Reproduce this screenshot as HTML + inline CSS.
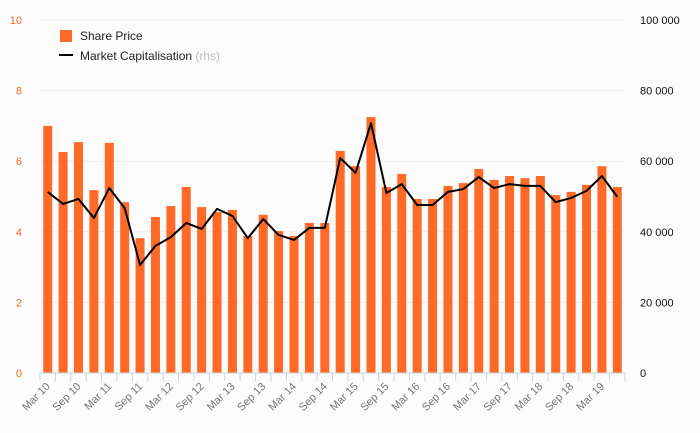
<!DOCTYPE html>
<html><head><meta charset="utf-8"><style>
body{margin:0;background:#fcfcfc;}
svg{display:block;font-family:"Liberation Sans",sans-serif;}
</style></head><body>
<svg id="chart" width="700" height="433"></svg>
<script>
const categories=["Mar 10","Jun 10","Sep 10","Dec 10","Mar 11","Jun 11","Sep 11","Dec 11","Mar 12","Jun 12","Sep 12","Dec 12","Mar 13","Jun 13","Sep 13","Dec 13","Mar 14","Jun 14","Sep 14","Dec 14","Mar 15","Jun 15","Sep 15","Dec 15","Mar 16","Jun 16","Sep 16","Dec 16","Mar 17","Jun 17","Sep 17","Dec 17","Mar 18","Jun 18","Sep 18","Dec 18","Mar 19","Jun 19"];
const sharePrice=[7.0,6.26,6.54,5.18,6.52,4.84,3.82,4.42,4.73,5.27,4.70,4.56,4.62,3.88,4.48,4.02,3.88,4.25,4.25,6.29,5.86,7.25,5.27,5.64,4.93,4.93,5.30,5.38,5.78,5.47,5.58,5.52,5.58,5.04,5.13,5.33,5.86,5.27];
const marketCap=[51300,47900,49300,43900,52400,46700,30600,36000,38500,42500,40800,46500,44500,38200,43600,39100,37700,41100,41100,60900,56700,70800,51000,53500,47600,47600,51300,52100,55500,52400,53500,53000,53000,48400,49600,51600,55800,49900];
const leftTicks=[0,2,4,6,8,10];
const rightTicks=[0,20000,40000,60000,80000,100000];
const rightTickLabels=["0","20 000","40 000","60 000","80 000","100 000"];

const NS="http://www.w3.org/2000/svg";
const svg=document.getElementById('chart');
const L=40,R=625,T=20,B=373;
const band=(R-L)/categories.length;
const xc=i=>L+band*(i+0.5);
const yL=v=>B-(v/10)*(B-T);
const yR=v=>B-(v/100000)*(B-T);
function mk(tag,attrs){const e=document.createElementNS(NS,tag);for(const k in attrs)e.setAttribute(k,attrs[k]);svg.appendChild(e);return e;}

leftTicks.forEach((t,i)=>{
  if(t>0){const g=mk('line',{x1:L,x2:R,y1:yL(t),y2:yL(t),stroke:'#ececec','stroke-width':1});
  
  }
  const a=mk('text',{x:22,y:yL(t)+4,'text-anchor':'end','font-size':11,fill:'#f26b2a'});a.textContent=t;
  
  
});
rightTicks.forEach((t,i)=>{
  const a=mk('text',{x:640,y:yR(t)+4,'font-size':11,fill:'#111'});a.textContent=rightTickLabels[i];
  
  
});
sharePrice.forEach((v,i)=>{
  const r=mk('rect',{x:xc(i)-4.5,y:yL(v),width:9,height:B-yL(v),fill:'#ff6a28'});
  
  
});
const ax=mk('line',{x1:L,x2:R,y1:B,y2:B,stroke:'#c8d3e2','stroke-width':1});


for(let i=0;i<=categories.length;i++){
  const tk=mk('line',{x1:L+band*i,x2:L+band*i,y1:B,y2:B+8,stroke:'#c8d3e2','stroke-width':1});
  
  
}
categories.forEach((c,i)=>{
  if(i%2)return;
  const x=xc(i)+3,y=B+14;
  const t=mk('text',{x:x,y:y,'text-anchor':'end','font-size':11,fill:'#777',transform:`rotate(-45 ${x} ${y})`});t.textContent=c;
  
  
});
const line=mk('polyline',{points:marketCap.map((v,i)=>xc(i)+','+yR(v)).join(' '),fill:'none',stroke:'#000','stroke-width':2,'stroke-linejoin':'round'});



const lr=mk('rect',{x:60,y:30,width:12,height:12,fill:'#ff6a28'});


const lt=mk('text',{x:80,y:40,'font-size':12,fill:'#222'});lt.textContent='Share Price';


const ll=mk('line',{x1:59,x2:73,y1:55,y2:55,stroke:'#000','stroke-width':2});


const lt2=mk('text',{x:80,y:60,'font-size':12,fill:'#222'});lt2.innerHTML='Market Capitalisation <tspan fill="#bbb">(rhs)</tspan>';


</script>
</body></html>
